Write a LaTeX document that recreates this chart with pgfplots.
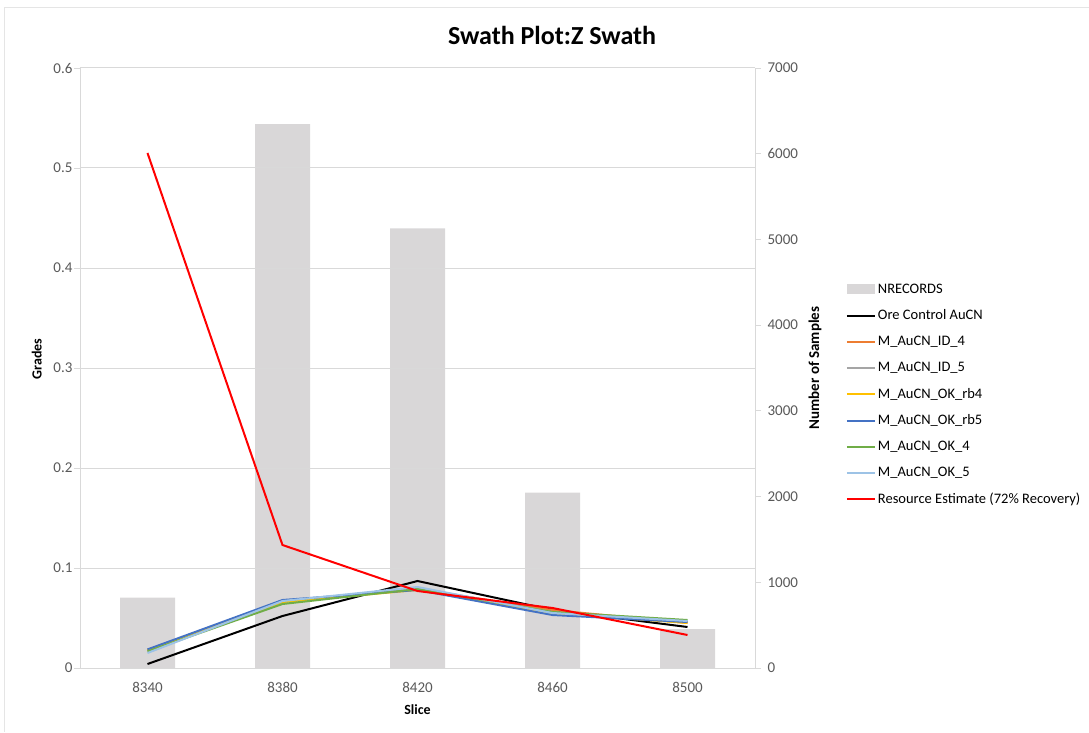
\documentclass[border=0pt]{standalone}
\usepackage{pgfplots}
\pgfplotsset{compat=1.18}
\usepackage{fontspec}
\setmainfont{Carlito}
\definecolor{barcol}{HTML}{D9D7D8}
\definecolor{gridcol}{HTML}{D9D9D9}
\definecolor{tickcol}{HTML}{595959}
\definecolor{cOrange}{HTML}{ED7D31}
\definecolor{cGray}{HTML}{A5A5A5}
\definecolor{cYellow}{HTML}{FFC000}
\definecolor{cBlue}{HTML}{4472C4}
\definecolor{cGreen}{HTML}{70AD47}
\definecolor{cLBlue}{HTML}{9DC3E6}
\definecolor{cRed}{HTML}{FF0000}
\begin{document}
\begin{tikzpicture}
\path[use as bounding box] (-80pt,-64pt) rectangle (1009pt,668pt);
\draw[gray!20, line width=1pt] (-75pt,-64pt) -- (-75pt,660pt) -- (1009pt,660pt);
\node[font=\bfseries\fontsize{26}{30}\selectfont] at (472pt,633pt) {Swath Plot:Z Swath};
% bars on right axis
\begin{axis}[
  at={(0pt,0pt)}, anchor=south west,
  width=675pt, height=600pt, scale only axis,
  xmin=-0.5, xmax=4.5, ymin=0, ymax=7000,
  axis x line=none, axis y line*=right,
  ytick={0,1000,...,7000},
  y axis line style={gridcol, line width=0.8pt},
  ytick style={gridcol, line width=0.8pt},
  tick align=outside, major tick length=6pt,
  yticklabel style={font=\fontsize{15}{17}\selectfont, text=tickcol, anchor=west, xshift=3pt},
  /pgf/number format/assume math mode=true,
  /pgf/number format/1000 sep={},
  ylabel={Number of Samples},
  ylabel style={font=\bfseries\fontsize{15}{17}\selectfont, at={(axis description cs:1.089,0.5)}, anchor=center},
]
\addplot[ybar, bar width=55pt, fill=barcol, draw=none] coordinates {(0,820) (1,6345) (2,5130) (3,2045) (4,455)};
\end{axis}
% grades on left axis
\begin{axis}[
  at={(0pt,0pt)}, anchor=south west,
  width=675pt, height=600pt, scale only axis,
  xmin=-0.5, xmax=4.5, ymin=0, ymax=0.6,
  axis x line*=bottom, axis y line*=left,
  xtick={0,1,2,3,4}, xticklabels={8340,8380,8420,8460,8500},
  minor xtick={-0.5,0.5,1.5,2.5,3.5,4.5},
  ytick={0,0.1,...,0.6},
  yticklabels={0,0.1,0.2,0.3,0.4,0.5,0.6},
  ymajorgrids, grid style={gridcol, line width=1pt},
  axis line style={gridcol, line width=0.8pt},
  tick style={gridcol, line width=0.8pt},
  tick align=outside, major tick length=6pt,
  xtick style={draw=none}, minor x tick style={gridcol, line width=0.8pt}, minor tick length=6pt,
  ticklabel style={font=\fontsize{15}{17}\selectfont, text=tickcol},
  yticklabel style={xshift=2pt},
  xticklabel shift={5pt},
  /pgf/number format/assume math mode=true,
  xlabel={Slice},
  xlabel style={font=\bfseries\fontsize{14}{16}\selectfont, at={(axis description cs:0.5,-0.07)}, anchor=center},
  ylabel={Grades},
  ylabel style={font=\bfseries\fontsize{14}{16}\selectfont, at={(axis description cs:-0.064,0.515)}, anchor=center},
  legend style={draw=none, fill=none, at={(axis description cs:1.13,0.647)}, anchor=north west,
    font=\fontsize{14.5}{17}\selectfont, row sep=11pt, cells={anchor=west}},
  legend image code/.code={\draw[#1, line width=2pt] (0pt,0pt) -- (28pt,0pt);},
  every axis plot/.append style={line width=2pt},
]
\addlegendimage{area legend, fill=barcol, draw=none, legend image code/.code={\fill[barcol] (0pt,-5pt) rectangle (28pt,5pt);}}
\addlegendentry{NRECORDS}
\addplot[black] coordinates {(0,0.004) (1,0.052) (2,0.087) (3,0.058) (4,0.041)};
\addlegendentry{Ore Control AuCN}
\addplot[cOrange] coordinates {(0,0.018) (1,0.067) (2,0.079) (3,0.058) (4,0.045)};
\addlegendentry{M\_AuCN\_ID\_4}
\addplot[cGray] coordinates {(0,0.017) (1,0.066) (2,0.080) (3,0.056) (4,0.046)};
\addlegendentry{M\_AuCN\_ID\_5}
\addplot[cYellow] coordinates {(0,0.018) (1,0.066) (2,0.078) (3,0.055) (4,0.045)};
\addlegendentry{M\_AuCN\_OK\_rb4}
\addplot[cBlue] coordinates {(0,0.0186) (1,0.068) (2,0.078) (3,0.053) (4,0.046)};
\addlegendentry{M\_AuCN\_OK\_rb5}
\addplot[cGreen] coordinates {(0,0.0166) (1,0.064) (2,0.079) (3,0.056) (4,0.048)};
\addlegendentry{M\_AuCN\_OK\_4}
\addplot[cLBlue] coordinates {(0,0.015) (1,0.067) (2,0.081) (3,0.055) (4,0.047)};
\addlegendentry{M\_AuCN\_OK\_5}
\addplot[cRed] coordinates {(0,0.515) (1,0.123) (2,0.077) (3,0.060) (4,0.033)};
\addlegendentry{Resource Estimate (72\% Recovery)}
\end{axis}
\end{tikzpicture}
\end{document}
